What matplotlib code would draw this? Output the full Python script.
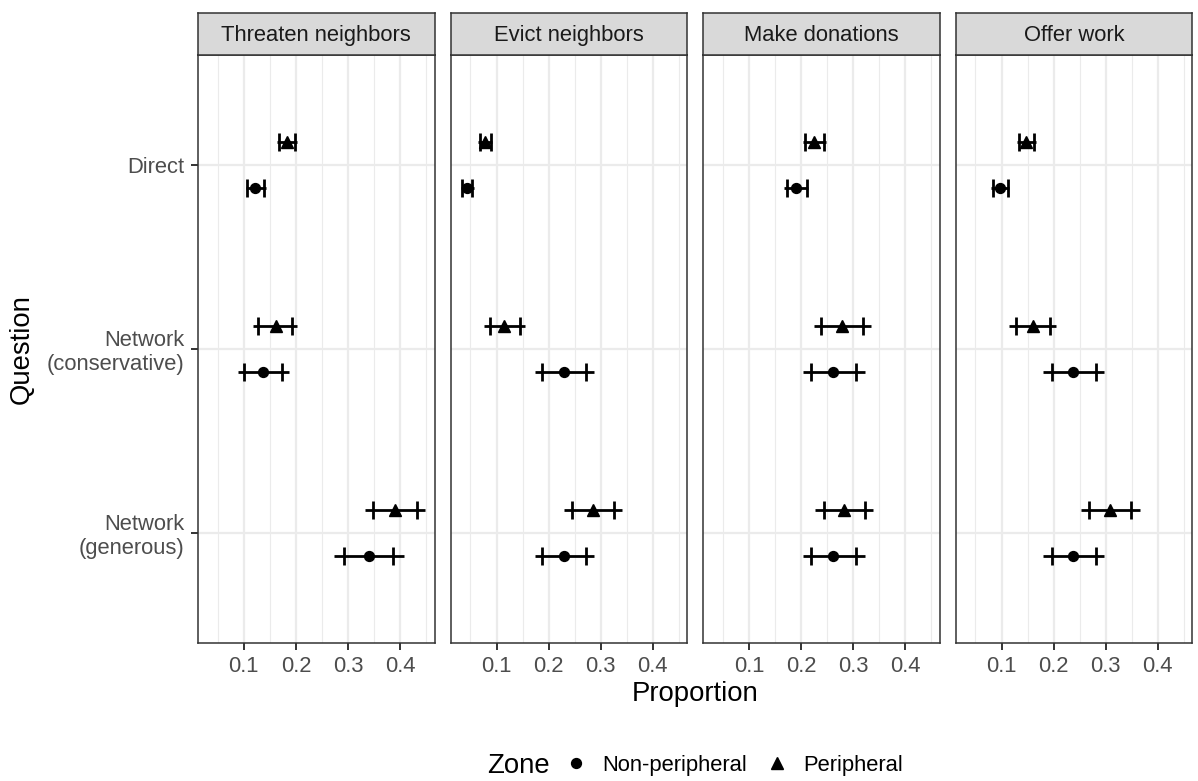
import matplotlib
matplotlib.use('Agg')
import matplotlib.pyplot as plt
from matplotlib.lines import Line2D
import numpy as np

plt.rcParams['font.family'] = ['Liberation Sans', 'DejaVu Sans']

# ---------------- data ----------------
facets = ['Threaten neighbors', 'Evict neighbors', 'Make donations', 'Offer work']
questions = ['Direct', 'Network\n(conservative)', 'Network\n(generous)']
zones = ['Non-peripheral', 'Peripheral']

# rows: facets, columns: questions (Direct, Network conservative, Network generous)
nonperipheral_est = [[0.122, 0.137, 0.340],
                     [0.044, 0.230, 0.230],
                     [0.190, 0.262, 0.262],
                     [0.098, 0.238, 0.238]]
# inner interval (caps)
nonperipheral_lo = [[0.107, 0.101, 0.293],
                    [0.034, 0.188, 0.188],
                    [0.173, 0.219, 0.219],
                    [0.084, 0.196, 0.196]]
nonperipheral_hi = [[0.139, 0.173, 0.387],
                    [0.053, 0.272, 0.272],
                    [0.211, 0.305, 0.305],
                    [0.112, 0.281, 0.281]]
# outer interval (line)
nonperipheral_lo_outer = [[0.104, 0.089, 0.274],
                          [0.031, 0.173, 0.173],
                          [0.168, 0.203, 0.203],
                          [0.080, 0.179, 0.179]]
nonperipheral_hi_outer = [[0.142, 0.187, 0.408],
                          [0.057, 0.288, 0.288],
                          [0.214, 0.322, 0.322],
                          [0.115, 0.297, 0.297]]

peripheral_est = [[0.182, 0.161, 0.390],
                  [0.078, 0.115, 0.285],
                  [0.225, 0.278, 0.282],
                  [0.147, 0.160, 0.309]]
peripheral_lo = [[0.167, 0.128, 0.348],
                 [0.068, 0.087, 0.244],
                 [0.208, 0.238, 0.243],
                 [0.133, 0.128, 0.268]]
peripheral_hi = [[0.199, 0.193, 0.432],
                 [0.090, 0.145, 0.326],
                 [0.243, 0.319, 0.322],
                 [0.163, 0.193, 0.349]]
peripheral_lo_outer = [[0.163, 0.118, 0.333],
                       [0.064, 0.076, 0.229],
                       [0.203, 0.224, 0.227],
                       [0.129, 0.115, 0.252]]
peripheral_hi_outer = [[0.203, 0.203, 0.448],
                       [0.092, 0.155, 0.341],
                       [0.248, 0.335, 0.338],
                       [0.166, 0.204, 0.365]]

x_major = [0.1, 0.2, 0.3, 0.4]
x_minor = [0.05, 0.15, 0.25, 0.35, 0.45]

# ---------------- layout ----------------
W, H = 1198, 781
fig = plt.figure(figsize=(W / 100, H / 100), dpi=100)
fig.patch.set_facecolor('white')

def fx(px):
    return px / W

def fy(py):
    return 1 - py / H

panel_lefts = [198, 450.7, 703.2, 955.7]
panel_w = 236.5
panel_top, panel_bottom = 55, 643
strip_top = 13

dodge = 0.125
small = 15.8
big = 19.8
border = '#333333'
lw = 2.0

series = [
    (nonperipheral_est, nonperipheral_lo, nonperipheral_hi,
     nonperipheral_lo_outer, nonperipheral_hi_outer, 'o', 7.1, dodge),
    (peripheral_est, peripheral_lo, peripheral_hi,
     peripheral_lo_outer, peripheral_hi_outer, '^', 8.4, -dodge),
]

for i, name in enumerate(facets):
    left = panel_lefts[i]
    ax = fig.add_axes([fx(left), fy(panel_bottom), panel_w / W, (panel_bottom - panel_top) / H])
    ax.set_xlim(0.012, 0.466)
    ax.set_ylim(3.6, 0.4)
    ax.set_xticks(x_major)
    ax.set_xticks(x_minor, minor=True)
    ax.set_xticklabels([f'{v:.1f}' for v in x_major])
    ax.set_yticks([1, 2, 3])
    ax.grid(True, which='major', color='#EBEBEB', lw=1.6, zorder=0)
    ax.grid(True, which='minor', axis='x', color='#EBEBEB', lw=0.8, zorder=0)
    ax.set_axisbelow(True)
    ax.tick_params(axis='both', which='major', length=5, width=1.4, color=border,
                   labelsize=small, labelcolor='#4D4D4D')
    ax.tick_params(axis='x', which='major', pad=4)
    ax.tick_params(axis='y', which='major', pad=4.5)
    ax.tick_params(axis='x', which='minor', length=0)
    if i == 0:
        ax.set_yticklabels(questions, linespacing=1.15)
    else:
        ax.set_yticklabels([])
        ax.tick_params(axis='y', which='major', length=0)
    for s in ax.spines.values():
        s.set_color(border)
        s.set_linewidth(1.1)
    ypos = np.arange(1, len(questions) + 1)
    for est, lo, hi, lo_o, hi_o, mk, ms, off in series:
        e = np.array(est[i])
        yy = ypos + off
        ax.hlines(yy, lo_o[i], hi_o[i], color='black', lw=lw, zorder=3)
        ax.plot(lo[i], yy, ls='none', marker='|', ms=12.5, mew=lw, color='black', zorder=3)
        ax.plot(hi[i], yy, ls='none', marker='|', ms=12.5, mew=lw, color='black', zorder=3)
        ax.plot(e, yy, ls='none', marker=mk, ms=ms, color='black', zorder=4)

    # strip
    sax = fig.add_axes([fx(left), fy(panel_top), panel_w / W, (panel_top - strip_top) / H])
    sax.set_facecolor('#D9D9D9')
    sax.set_xticks([])
    sax.set_yticks([])
    for s in sax.spines.values():
        s.set_color(border)
        s.set_linewidth(1.1)
    sax.text(0.5, 0.47, name, ha='center', va='center', fontsize=small, color='#1A1A1A',
             transform=sax.transAxes)

# axis titles
fig.text(fx((panel_lefts[0] + panel_lefts[-1] + panel_w) / 2), fy(694), 'Proportion',
         ha='center', va='center', fontsize=big, color='black')
fig.text(fx(22), fy((panel_top + panel_bottom) / 2), 'Question', rotation=90,
         ha='center', va='center', fontsize=big, color='black')

# legend
fig.text(fx(487), fy(766), 'Zone', ha='left', va='center', fontsize=big, color='black')
handles = [Line2D([], [], ls='none', marker='o', ms=7.1, color='black'),
           Line2D([], [], ls='none', marker='^', ms=8.4, color='black')]
fig.legend(handles, zones, ncol=2, loc='center left', bbox_to_anchor=(fx(563), fy(765)),
           frameon=False, fontsize=small, handletextpad=0.6, columnspacing=0.75,
           borderaxespad=0, borderpad=0, handlelength=1.2)

fig.savefig('out.png', dpi=100)
